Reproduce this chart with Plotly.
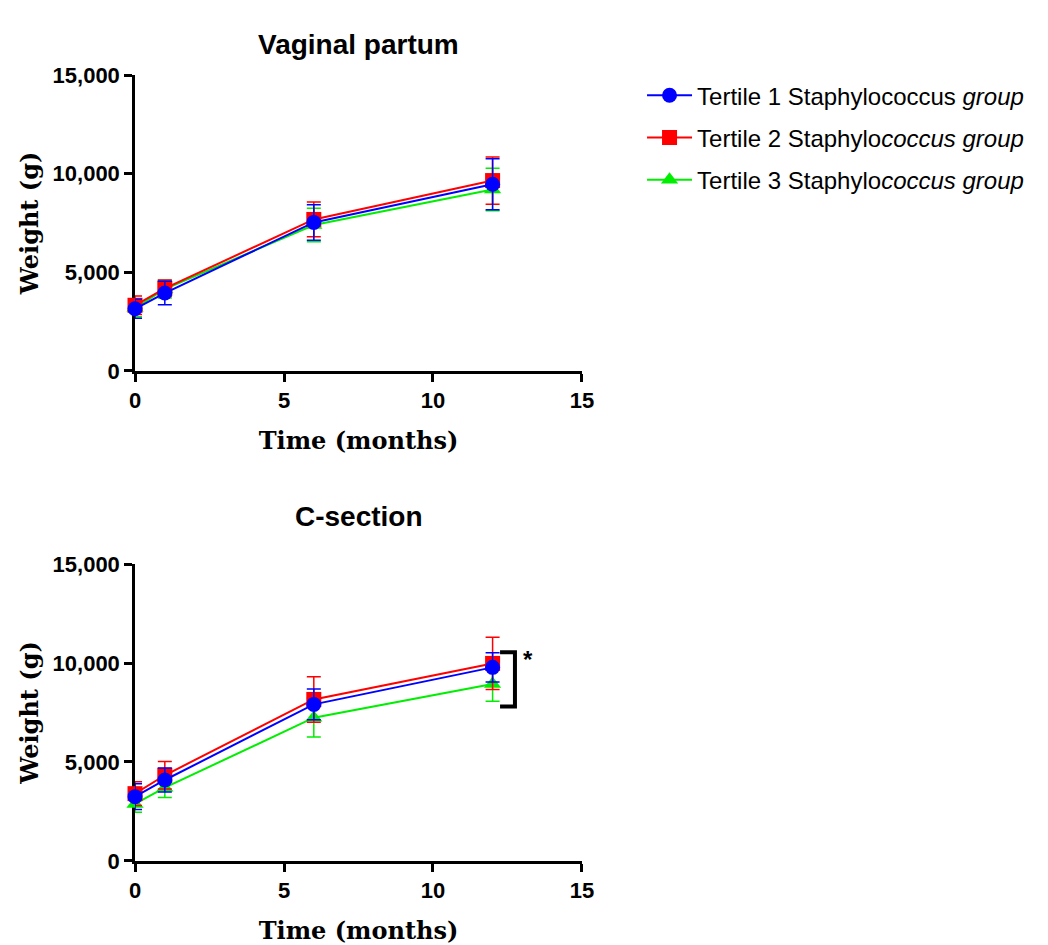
import plotly.graph_objects as go

months = [0, 1, 6, 12]

# Vaginal partum: means and SD
vag_t1 = [3150, 3950, 7530, 9460]
vag_t1_sd = [480, 600, 900, 1290]
vag_t2 = [3330, 4190, 7680, 9650]
vag_t2_sd = [470, 420, 880, 1200]
vag_t3 = [3200, 4150, 7400, 9200]
vag_t3_sd = [450, 450, 850, 1080]

# C-section: means and SD
cs_t1 = [3250, 4090, 7910, 9780]
cs_t1_sd = [650, 600, 780, 740]
cs_t2 = [3400, 4330, 8160, 9980]
cs_t2_sd = [600, 700, 1150, 1320]
cs_t3 = [2880, 3700, 7240, 8940]
cs_t3_sd = [420, 500, 980, 870]

names = ["Tertile 1 Staphylococcus <i>group</i>",
         "Tertile 2 Staphylo<i>coccus group</i>",
         "Tertile 3 Staphylo<i>coccus group</i>"]
colors = ["#0000ff", "#ff0000", "#00ee00"]
symbols = ["circle", "square", "triangle-up"]

sig_x = [12.25, 12.75]
sig_y = [7800, 10550]

fig = go.Figure()

groups = [
    ("x", "y", [vag_t1, vag_t2, vag_t3], [vag_t1_sd, vag_t2_sd, vag_t3_sd], True),
    ("x2", "y2", [cs_t1, cs_t2, cs_t3], [cs_t1_sd, cs_t2_sd, cs_t3_sd], False),
]
for xa, ya, means, sds, show in groups:
    for i in [2, 1, 0]:
        fig.add_trace(go.Scatter(
            x=months, y=means[i], xaxis=xa, yaxis=ya,
            mode="lines+markers", name=names[i], legendrank=i + 1,
            legendgroup=f"g{i}", showlegend=show,
            line=dict(color=colors[i], width=2),
            marker=dict(color=colors[i], symbol=symbols[i], size=15),
            error_y=dict(type="data", array=sds[i], color=colors[i], thickness=1.5, width=7),
            cliponaxis=False,
        ))

# significance bracket
fig.add_trace(go.Scatter(
    x=[sig_x[0], sig_x[1], sig_x[1], sig_x[0]],
    y=[sig_y[1], sig_y[1], sig_y[0], sig_y[0]],
    xaxis="x2", yaxis="y2", mode="lines", showlegend=False,
    line=dict(color="black", width=4), cliponaxis=False, hoverinfo="skip"))
fig.add_annotation(x=13.2, y=sig_y[1] - 350, xref="x2", yref="y2", text="<b>*</b>",
                   showarrow=False, font=dict(size=24, color="black", family="Liberation Sans"))

tickfont = dict(family="Liberation Sans", size=22, color="black", weight="bold")
titlefont = dict(family="DejaVu Serif", size=24, color="black", weight="bold")
ax_common = dict(showline=True, linecolor="black", linewidth=2.5, ticks="outside",
                 ticklen=8, tickwidth=2.5, tickcolor="black", showgrid=False,
                 zeroline=False, tickfont=tickfont, layer="below traces", automargin=False)

fig.update_layout(
    width=1048, height=945,
    margin=dict(l=0, r=0, t=0, b=0),
    paper_bgcolor="white", plot_bgcolor="white",
    xaxis=dict(domain=[0.1212, 0.5477], anchor="y", range=[0, 15], tickvals=[0, 5, 10, 15],
               title=dict(text="Time (months)", font=titlefont, standoff=21), **ax_common),
    yaxis=dict(domain=[0.6159, 0.9291], anchor="x", range=[0, 15000],
               tickvals=[0, 5000, 10000, 15000], tickformat=",",
               title=dict(text="Weight (g)", font=titlefont, standoff=8), **ax_common),
    xaxis2=dict(domain=[0.1212, 0.5477], anchor="y2", range=[0, 15], tickvals=[0, 5, 10, 15],
                title=dict(text="Time (months)", font=titlefont, standoff=21), **ax_common),
    yaxis2=dict(domain=[0.0974, 0.4116], anchor="x2", range=[0, 15000],
                tickvals=[0, 5000, 10000, 15000], tickformat=",",
                title=dict(text="Weight (g)", font=titlefont, standoff=8), **ax_common),
    legend=dict(x=0.605, y=0.931, xanchor="left", yanchor="top",
                font=dict(family="Liberation Sans", size=24, color="black"),
                itemwidth=45,
                tracegroupgap=8, traceorder="grouped", bgcolor="rgba(0,0,0,0)"),
    showlegend=True,
)
fig.add_annotation(x=0.3349, y=1 - 19 / 945, xref="paper", yref="paper", text="<b>Vaginal partum</b>",
                   showarrow=False, font=dict(family="Liberation Sans", size=28, color="black"))
fig.add_annotation(x=0.3349, y=1 - 508 / 945, xref="paper", yref="paper", text="<b>C-section</b>",
                   showarrow=False, font=dict(family="Liberation Sans", size=28, color="black"))

fig.write_html("out.html")
